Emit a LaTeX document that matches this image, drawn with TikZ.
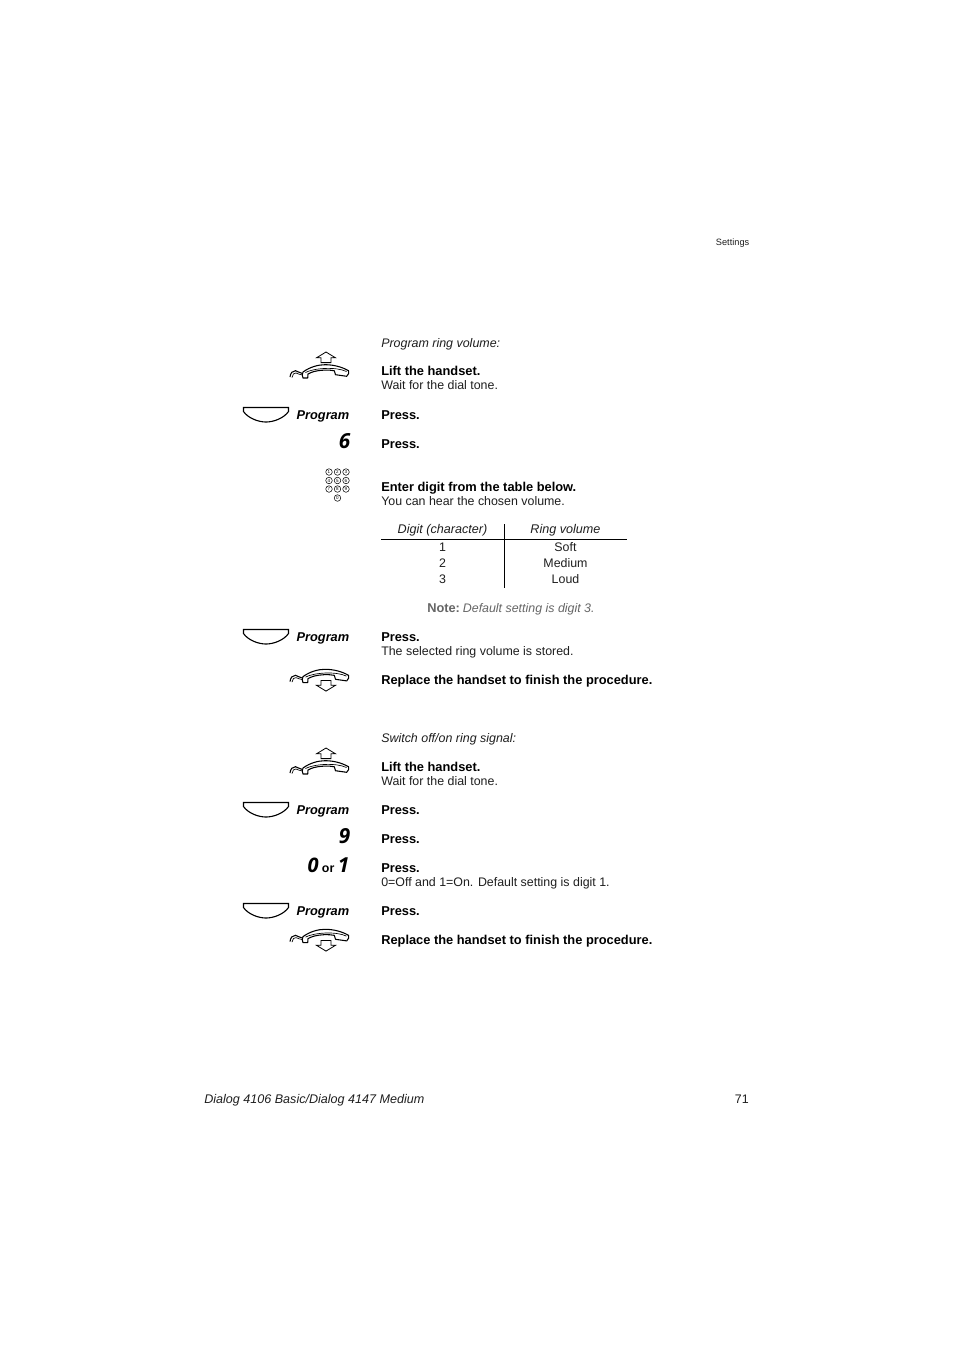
\documentclass[tikz,border=0pt]{standalone}
\usepackage{fontspec}
\setmainfont{Liberation Sans}
\newfontfamily\digitfont{Open Sans}
\begin{document}
\begin{tikzpicture}[x=0.75pt,y=-0.75pt,
  body/.style={anchor=base west,inner sep=0pt,text=black!88,font=\fontsize{9.3}{11}\selectfont},
  strong/.style={anchor=base west,inner sep=0pt,font=\fontsize{9.63}{11}\selectfont\bfseries},
  slant/.style={body,font=\fontsize{9.33}{11}\selectfont\itshape},
  cell/.style={anchor=base,inner sep=0pt,text=black!88,font=\fontsize{9.3}{11}\selectfont},
  cellhead/.style={cell,font=\fontsize{9.45}{11}\selectfont\itshape},
  prog/.style={anchor=base east,inner sep=0pt,font=\fontsize{9.6}{11}\selectfont\bfseries\itshape},
  bigdigit/.style={anchor=base east,inner sep=0pt,font=\fontsize{15.5}{18}\selectfont\digitfont\bfseries\itshape},
  icon/.style={line width=0.75pt,black},
  rule/.style={line width=0.7pt,black},
  pics/softkey/.style={code={
    \draw[icon,line width=0.85pt] (-22.5,-6.5) -- (22.5,-6.5) -- (22.5,-2.5) .. controls (18,4) and (8,8) .. (0,8) .. controls (-8,8) and (-18,4) .. (-22.5,-2.5) -- cycle;
  }},
  pics/handset/.style={code={
    \draw[icon,line width=0.8pt,line join=round,fill=white] (-27,1) .. controls (-20,-4) and (-12,-6.3) .. (-5,-6.3) .. controls (4,-6.3) and (12,-4) .. (18.5,-0.3) .. controls (19.5,1) and (18.5,4) .. (16.7,5.3) -- (5.5,3.7) -- (4.3,-0.3) .. controls (-2,-1.5) and (-10,-1) .. (-16,0.5) .. controls (-18,1) and (-20,2) .. (-22,3) -- (-22.3,7) -- (-27,7) .. controls (-28,5) and (-28,3) .. (-27,1) -- cycle;
    \draw[icon,line width=0.5pt] (-24.5,1.5) .. controls (-16,-3) and (6,-4.5) .. (16.5,0.5);
    \draw[icon,line width=0.8pt] (-40,6) .. controls (-39.5,2) and (-37.5,-0.5) .. (-34.5,-0.3) .. controls (-32,0) and (-30,2.5) .. (-27.5,2.5);
    \draw[icon,line width=0.5pt] (-38,6.5) .. controls (-37.5,3.5) and (-36,1.5) .. (-34,2) .. controls (-32,2.5) and (-30,4) .. (-27.5,4);
  }},
  pics/arrowup/.style={code={
    \draw[icon,line width=0.6pt,line join=miter] (0,-5.2) -- (9.5,0.6) -- (5,0.6) -- (5,5.4) -- (-5,5.4) -- (-5,0.6) -- (-9.5,0.6) -- cycle;
  }},
  pics/arrowdown/.style={code={
    \draw[icon,line width=0.6pt,line join=miter] (0,5.2) -- (9.5,-0.6) -- (5,-0.6) -- (5,-5.4) -- (-5,-5.4) -- (-5,-0.6) -- (-9.5,-0.6) -- cycle;
  }},
  pics/liftup/.style={code={
    \pic at (0,0) {handset};
    \pic at (-4,-13.8) {arrowup};
  }},
  pics/putdown/.style={code={
    \pic at (0,0) {handset};
    \pic at (-4,10.3) {arrowdown};
  }},
  keydot/.style={circle,draw,line width=0.4pt,minimum size=4.9pt,inner sep=0pt,font=\fontsize{3.4}{4}\selectfont}
]
\useasboundingbox (0,0) rectangle (954,1350);
\fill[white] (0,0) rectangle (954,1350);

\node[anchor=base east,inner sep=0pt,text=black!88,font=\fontsize{6.9}{8}\selectfont] (hdr) at (749.5,245) {Settings};

% Section 1
\node[slant] (t1) at (381,347) {Program ring volume:};
\pic at (330,371) {liftup};
\node[strong] (t2) at (381,375) {Lift the handset.};
\node[body] (t3) at (381,389.5) {Wait for the dial tone.};
\pic at (266,414) {softkey};
\node[prog] (p1) at (349.5,419) {Program};
\node[strong] (t4) at (381,419) {Press.};
\node[bigdigit] (d6) at (350.5,448) {6};
\node[strong] (t5) at (381,448) {Press.};

\foreach \r/\yy [count=\n from 0] in {0/472,1/480.5,2/489}
  \foreach \c/\xx [count=\m from 1] in {0/329,1/337.5,2/346}
    {\pgfmathtruncatemacro{\lab}{\n*3+\m}
     \node[keydot] (k\r\c) at (\xx,\yy) {\lab};}
\node[keydot] (k30) at (337.5,498) {0};

\node[strong] (t6) at (381,491) {Enter digit from the table below.};
\node[body] (t7) at (381,505) {You can hear the chosen volume.};

\node[cellhead] (h1) at (442.5,533) {Digit (character)};
\node[cellhead] (h2) at (565.5,533) {Ring volume};
\coordinate (hl) at (381,539.5); \coordinate (hr) at (627,539.5);
\coordinate (vt) at (504.5,524); \coordinate (vb) at (504.5,588);
\draw[rule] (hl) -- (hr);
\draw[rule] (vt) -- (vb);
\node[cell] (a1) at (442.5,551) {1};
\node[cell] (b1) at (565.5,551) {Soft};
\node[cell] (a2) at (442.5,567) {2};
\node[cell] (b2) at (565.5,567) {Medium};
\node[cell] (a3) at (442.5,583) {3};
\node[cell] (b3) at (565.5,583) {Loud};

\node[anchor=base west,inner sep=0pt,text=black!60,font=\fontsize{9.3}{11}\selectfont] (n1) at (427,612) {{\fontsize{9.6}{11}\selectfont\textbf{Note:}}\hspace{2.2pt}\textit{Default setting is digit 3.}};

\pic at (266,636) {softkey};
\node[prog] (p2) at (349.5,641) {Program};
\node[strong] (t8) at (381,641) {Press.};
\node[body] (t9) at (381,655) {The selected ring volume is stored.};
\pic at (330,675.6) {putdown};
\node[strong] (t10) at (381,684) {Replace the handset to finish the procedure.};

% Section 2
\node[slant] (s1) at (381,742) {Switch off/on ring signal:};
\pic at (330,767) {liftup};
\node[strong] (s2) at (381,771) {Lift the handset.};
\node[body] (s3) at (381,785) {Wait for the dial tone.};
\pic at (266,809) {softkey};
\node[prog] (p3) at (349.5,814) {Program};
\node[strong] (s4) at (381,814) {Press.};
\node[bigdigit] (d9) at (350.5,843) {9};
\node[strong] (s5) at (381,843) {Press.};
\node[anchor=base east,inner sep=0pt] (d01) at (349.5,872) {{\fontsize{15}{18}\selectfont\digitfont\bfseries\itshape 0}\hspace{2.6pt}{\fontsize{9.3}{11}\selectfont\bfseries or}\hspace{2.6pt}{\fontsize{15.5}{18}\selectfont\digitfont\bfseries\itshape 1}};
\node[strong] (s6) at (381,872) {Press.};
\node[body] (s7) at (381,886) {0=Off and 1=On. Default setting is digit 1.};
\pic at (266,910) {softkey};
\node[prog] (p4) at (349.5,915) {Program};
\node[strong] (s8) at (381,915) {Press.};
\pic at (330,935.6) {putdown};
\node[strong] (s9) at (381,944) {Replace the handset to finish the procedure.};

% Footer
\node[anchor=base west,inner sep=0pt,text=black!88,font=\fontsize{9.43}{11}\selectfont\itshape] (f1) at (204,1103) {Dialog 4106 Basic/Dialog 4147 Medium};
\node[anchor=base east,inner sep=0pt,text=black!88,font=\fontsize{9.3}{11}\selectfont] (f2) at (749,1103) {71};
\end{tikzpicture}
\end{document}
